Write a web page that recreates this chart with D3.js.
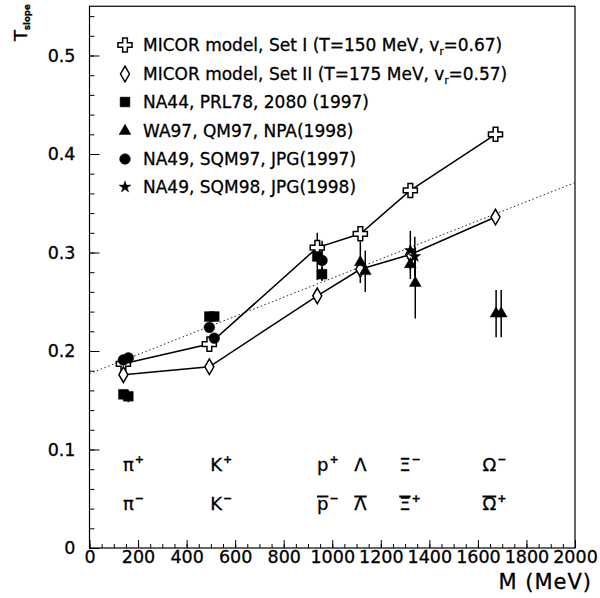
<!DOCTYPE html>
<html>
<head>
<meta charset="utf-8">
<script src="https://cdn.jsdelivr.net/npm/d3@7"></script>
<style>
  body { margin: 0; background: #fff; }
  text { font-family: "DejaVu Sans", sans-serif; fill: #000; stroke: #000; stroke-width: 0.3px; }
</style>
</head>
<body>
<script>
// particle masses (MeV) and model values
const masses = [139.6, 493.7, 938.3, 1115.7, 1321.7, 1672.5];
const setI  = [0.187, 0.207, 0.305, 0.319, 0.363, 0.420];
const setII = [0.176, 0.184, 0.256, 0.283, 0.298, 0.336];

// measurements: [mass, T, error]
const na44  = [[139.6, 0.156, 0.005], [160, 0.154, 0.006], [493.7, 0.235, 0.004], [514, 0.235, 0.004], [938.3, 0.296, 0.024], [958, 0.278, 0.007]];
const wa97  = [[1115.7, 0.290, 0.021], [1136, 0.281, 0.021], [1321.7, 0.288, 0.015], [1342, 0.269, 0.036], [1675, 0.238, 0.024], [1696, 0.238, 0.024]];
const na49a = [[139.6, 0.191, 0.004], [160, 0.193, 0.004], [493.7, 0.224, 0.004], [514, 0.213, 0.004], [958, 0.292, 0.02]];
const na49b = [[1321.7, 0.302, 0.02], [1340, 0.296, 0.02]];

const fitLine = [[0, 0.177], [2000, 0.371]];

const legendLabels = [
  ["MICOR model, Set I (T=150 MeV, v", "r", "=0.67)"],
  ["MICOR model, Set II (T=175 MeV, v", "r", "=0.57)"],
  ["NA44, PRL78, 2080 (1997)"],
  ["WA97, QM97, NPA(1998)"],
  ["NA49, SQM97, JPG(1997)"],
  ["NA49, SQM98, JPG(1998)"]
];

// particle labels: symbol, charge, bar, label position (MeV), row
const particles = [
  ["π", "+", false, 138, 0], ["K", "+", false, 497, 0], ["p", "+", false, 937, 0],
  ["Λ", "", false, 1091, 0], ["Ξ", "−", false, 1276, 0], ["Ω", "−", false, 1619, 0],
  ["π", "−", false, 138, 1], ["K", "−", false, 497, 1], ["p", "−", true, 937, 1],
  ["Λ", "", true, 1091, 1], ["Ξ", "+", true, 1276, 1], ["Ω", "+", true, 1619, 1]
];

const xTicks = d3.range(0, 2001, 200);
const yTicks = [0, 0.1, 0.2, 0.3, 0.4, 0.5];

const width = 600, height = 598;
const x = d3.scaleLinear().domain([0, 2000]).range([89.5, 575]);
const y = d3.scaleLinear().domain([0, 0.55]).range([548, 6.25]);

const svg = d3.select('body').append('svg')
  .attr('width', width)
  .attr('height', height);

svg.append('rect').attr('width', width).attr('height', height).attr('fill', '#fff');

// axes, ticks inward
svg.append('g').attr('transform', `translate(0,${y(0)})`)
  .call(d3.axisBottom(x).tickValues(d3.range(0, 2001, 50)).tickSize(-4).tickFormat(''));
svg.append('g').attr('transform', `translate(0,${y(0)})`)
  .call(d3.axisBottom(x).tickValues(xTicks).tickSize(-8).tickPadding(3).tickFormat(d3.format('d')));
svg.append('g').attr('transform', `translate(${x(0)},0)`)
  .call(d3.axisLeft(y).tickValues(d3.range(0, 0.5401, 0.02)).tickSize(-5).tickFormat(''));
svg.append('g').attr('transform', `translate(${x(0)},0)`)
  .call(d3.axisLeft(y).tickValues(yTicks).tickSize(-10).tickPadding(14)
    .tickFormat(d => d === 0 ? '0' : d3.format('.1f')(d)));

svg.selectAll('.domain').remove();
svg.selectAll('.tick line').attr('stroke', '#000').attr('stroke-width', 1);
svg.selectAll('.tick text')
  .style('font-family', '"DejaVu Sans", sans-serif')
  .style('font-size', '17.5px')
  .attr('fill', '#000');

svg.append('rect')
  .attr('x', x(0)).attr('y', y(0.55))
  .attr('width', x(2000) - x(0)).attr('height', y(0) - y(0.55))
  .attr('fill', 'none').attr('stroke', '#000').attr('stroke-width', 1.2);

// axis titles
svg.append('text')
  .attr('x', 592).attr('y', 589)
  .attr('text-anchor', 'end')
  .style('font-size', '21px')
  .style('letter-spacing', '1px')
  .text('M (MeV)');

const ylab = svg.append('text')
  .attr('transform', 'translate(27,41) rotate(-90)')
  .style('font-size', '18px');
ylab.append('tspan').text('T');
ylab.append('tspan').attr('dy', 3).style('font-size', '8.5px').style('font-weight', 'bold').text('slope');

// fit line
const line = d3.line().x(d => x(d[0])).y(d => y(d[1]));
svg.append('path')
  .attr('d', line(fitLine))
  .attr('fill', 'none').attr('stroke', '#222').attr('stroke-width', 1)
  .attr('stroke-dasharray', '1.5,2.5');

// model curves
const model1 = masses.map((m, i) => [m, setI[i]]);
const model2 = masses.map((m, i) => [m, setII[i]]);
[model1, model2].forEach(s => {
  svg.append('path').attr('d', line(s))
    .attr('fill', 'none').attr('stroke', '#000').attr('stroke-width', 1.5);
});

// error bars
const withErr = [].concat(na44, wa97, na49a, na49b);
svg.append('g').selectAll('line')
  .data(withErr)
  .enter().append('line')
    .attr('x1', d => x(d[0])).attr('x2', d => x(d[0]))
    .attr('y1', d => y(d[1] - d[2])).attr('y2', d => y(d[1] + d[2]))
    .attr('stroke', '#000').attr('stroke-width', 1.5);

const sym = {
  cross: d3.symbol().type(d3.symbolCross).size(110),
  diamond: d3.symbol().type(d3.symbolDiamond).size(70),
  square: d3.symbol().type(d3.symbolSquare).size(95),
  triangle: d3.symbol().type(d3.symbolTriangle).size(60),
  circle: d3.symbol().type(d3.symbolCircle).size(90),
  star: d3.symbol().type(d3.symbolStar).size(42)
};
const series = [
  { pts: model1, shape: 'cross', open: true },
  { pts: model2, shape: 'diamond', open: true },
  { pts: na44, shape: 'square', open: false },
  { pts: wa97, shape: 'triangle', open: false },
  { pts: na49a, shape: 'circle', open: false },
  { pts: na49b, shape: 'star', open: false }
];

const drawMarker = (g, shape, open) => {
  g.append('path')
    .attr('d', sym[shape]())
    .attr('fill', open ? '#fff' : '#000')
    .attr('stroke', '#000')
    .attr('stroke-width', open ? 1.5 : 0.5);
};

series.forEach(s => {
  s.pts.forEach(p => {
    const g = svg.append('g').attr('transform', `translate(${x(p[0])},${y(p[1])})`);
    drawMarker(g, s.shape, s.open);
  });
});

// legend
const legendY = [45, 74, 102, 131, 159, 187];
series.forEach((s, i) => {
  const g = svg.append('g').attr('transform', `translate(125,${legendY[i]})`);
  drawMarker(g, s.shape, s.open);
  const t = svg.append('text')
    .attr('x', 143).attr('y', legendY[i]).attr('dy', '0.36em')
    .style('font-size', '17px');
  const parts = legendLabels[i];
  t.append('tspan').text(parts[0]);
  if (parts.length > 1) {
    t.append('tspan').attr('dy', 4).style('font-size', '10px').text(parts[1]);
    t.append('tspan').attr('dy', -4).text(parts[2]);
  }
});

// particle labels
const rowBase = [471, 510];
particles.forEach(p => {
  const bx = x(p[3]), by = rowBase[p[4]];
  const t = svg.append('text').attr('x', bx).attr('y', by).style('font-size', '18px');
  t.append('tspan').text(p[0]);
  if (p[1]) {
    t.append('tspan').attr('dx', 1).attr('dy', -8)
      .style('font-size', '11px').style('font-weight', 'bold').text(p[1]);
  }
  if (p[2]) {
    const w = t.node().getSubStringLength(0, 1);
    svg.append('line')
      .attr('x1', bx).attr('x2', bx + w)
      .attr('y1', by - 13.5).attr('y2', by - 13.5)
      .attr('stroke', '#000').attr('stroke-width', 2);
  }
});
</script>
</body>
</html>
